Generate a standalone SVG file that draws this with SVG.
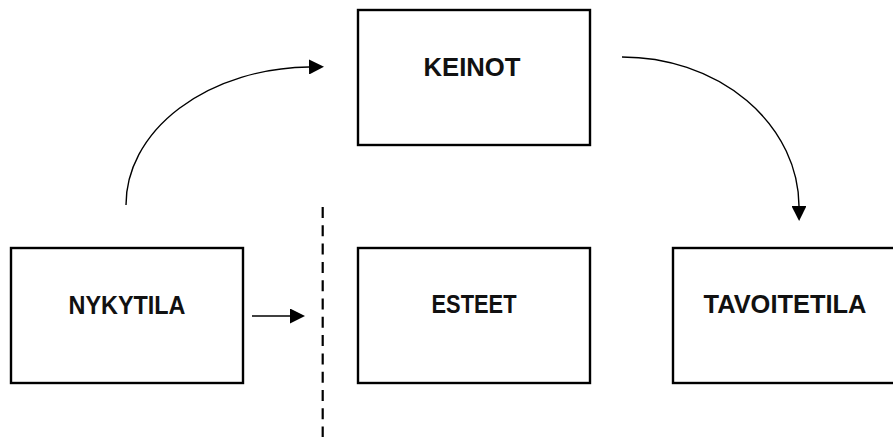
<svg xmlns="http://www.w3.org/2000/svg" width="893" height="437" viewBox="0 0 893 437">
<style>
.box{fill:#fff;stroke:#000;stroke-width:2.4}
.lbl{font-family:"Liberation Sans",Arial,sans-serif;font-weight:bold;font-size:25px;fill:#111;text-anchor:middle}
.conn{fill:none;stroke:#000;stroke-width:1.4}
</style>
<defs>
<marker id="ah" viewBox="0 0 10 10" refX="0" refY="5" markerWidth="15" markerHeight="15" markerUnits="userSpaceOnUse" orient="auto">
<path d="M0,0 L10,5 L0,10 Z" fill="#000"/>
</marker>
</defs>
<rect width="893" height="437" fill="#fff"/>
<g id="nykytila"><rect class="box" x="11" y="248" width="232" height="135"/><text class="lbl" x="127" y="314" textLength="117" lengthAdjust="spacingAndGlyphs">NYKYTILA</text></g>
<g id="keinot"><rect class="box" x="358" y="10" width="232" height="135"/><text class="lbl" x="472" y="76" textLength="97" lengthAdjust="spacingAndGlyphs">KEINOT</text></g>
<g id="esteet"><rect class="box" x="358" y="248" width="232" height="135"/><text class="lbl" x="474" y="313" textLength="85" lengthAdjust="spacingAndGlyphs">ESTEET</text></g>
<g id="tavoitetila"><rect class="box" x="673" y="248" width="232" height="135"/><text class="lbl" x="785" y="313" textLength="163" lengthAdjust="spacingAndGlyphs">TAVOITETILA</text></g>
<g id="connectors">
<path class="conn" d="M126,205 A186,138 0 0 1 309,67" marker-end="url(#ah)"/>
<path class="conn" d="M622,57 A177,150 0 0 1 799,206" marker-end="url(#ah)"/>
<path class="conn" d="M252,316 L290,316" marker-end="url(#ah)"/>
<line x1="322.7" y1="207" x2="322.7" y2="437" stroke="#000" stroke-width="2.2" stroke-dasharray="11 7.3"/>
</g>
</svg>
